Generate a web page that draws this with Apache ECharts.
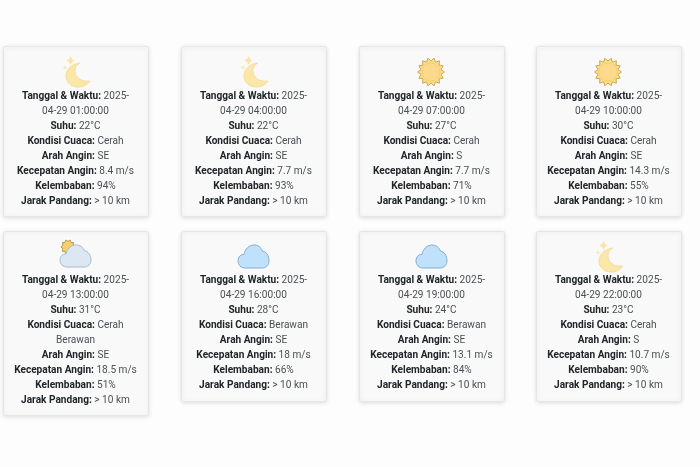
<!DOCTYPE html>
<html>
<head>
<meta charset="utf-8">
<style>
html, body { margin: 0; padding: 0; background: #fdfdfd; }
#main { width: 700px; height: 467px; }
</style>
<script src="https://cdn.jsdelivr.net/npm/echarts@6/dist/echarts.min.js"></script>
</head>
<body>
<div id="main"></div>
<script>
// data
var waktu = ['2025-04-29 01:00:00', '2025-04-29 04:00:00', '2025-04-29 07:00:00', '2025-04-29 10:00:00',
    '2025-04-29 13:00:00', '2025-04-29 16:00:00', '2025-04-29 19:00:00', '2025-04-29 22:00:00'];
var suhu = [22, 22, 27, 30, 31, 28, 24, 23];
var kondisi = ['Cerah', 'Cerah', 'Cerah', 'Cerah', 'Cerah Berawan', 'Berawan', 'Berawan', 'Cerah'];
var arah = ['SE', 'SE', 'S', 'SE', 'SE', 'SE', 'SE', 'S'];
var kecepatan = [8.4, 7.7, 7.7, 14.3, 18.5, 18, 13.1, 10.7];
var kelembaban = [94, 93, 71, 55, 51, 66, 84, 90];
var jarak = ['> 10 km', '> 10 km', '> 10 km', '> 10 km', '> 10 km', '> 10 km', '> 10 km', '> 10 km'];
var ikon = ['moon', 'moon', 'sun', 'sun', 'partly', 'cloud', 'cloud', 'moon'];

var cardX = [3, 181, 359, 536];
var cardW = 145;
var rowY = [46, 231];
var textY = [96, 280];
var lineH = 15;
var FONT = 'Roboto, "Noto Sans", sans-serif';

var CLOUD = 'M7 23 C3 23 0 20 0 16 C0 12 3 10 6 10 C7 5 11 1 16 1 C20 1 23 3 24.5 7 C28 7 31 11 31 16 C31 20 28 23 24 23 Z';
var CRESCENT = 'M14 0 C5 1 0 7 0 13 C0 19 5 24 12 24 C17 24 21 22 24 18 C17 19 10 16 9 9 C8.5 5 10 2 14 0 Z';
var STAR = 'M4 0 L5.4 2.6 L8 4 L5.4 5.4 L4 8 L2.6 5.4 L0 4 L2.6 2.6 Z';

function sunBurst(cx, cy, r, spikes) {
    var d = '', i, a, rr;
    for (i = 0; i < spikes * 2; i++) {
        a = Math.PI * i / spikes;
        rr = i % 2 ? r * 0.76 : r;
        d += (i ? 'L' : 'M') + (cx + rr * Math.cos(a)).toFixed(2) + ' ' + (cy + rr * Math.sin(a)).toFixed(2) + ' ';
    }
    return d + 'Z';
}

function pathAt(d, x, y, w, h, fill, stroke) {
    return {
        type: 'path',
        shape: { pathData: d, layout: 'cover', x: x, y: y, width: w, height: h },
        style: { fill: fill, stroke: stroke || null, lineWidth: 1 }
    };
}

function drawIcon(kind, cx, top) {
    if (kind === 'moon') {
        return [
            pathAt(CRESCENT, cx - 9.5, top + 7, 24, 24, '#fbe7a8', '#f5dd9b'),
            pathAt(STAR, cx - 9, top + 0, 8, 9, '#fbe4a0'),
            pathAt(STAR, cx - 13, top + 9, 5, 5, '#fbe9b8')
        ];
    }
    if (kind === 'sun') {
        return [
            pathAt(sunBurst(14, 14, 14, 14), cx - 14, top + 2, 27, 28, '#fcdc80', '#c9aa60'),
            { type: 'circle', shape: { cx: cx - 0.5, cy: top + 16, r: 9 }, style: { fill: '#fdd98e', stroke: '#f2cb72', lineWidth: 0.8 } }
        ];
    }
    if (kind === 'cloud') {
        return [pathAt(CLOUD, cx - 15.5, top + 4, 31, 23, '#bfe1fb', '#86aecb')];
    }
    // partly: small sun behind a pale cloud
    return [
        pathAt(sunBurst(8, 8, 8, 10), cx - 14.5, top - 1, 14, 14, '#f9cf6c', '#b89a52'),
        pathAt(CLOUD, cx - 15.5, top + 4, 31, 22, '#dbe8f2', '#a9bccb')
    ];
}

function wrapLines(i) {
    var w = waktu[i];
    var lines = [
        ['Tanggal & Waktu: ', w.slice(0, 5)],
        ['', w.slice(5)],
        ['Suhu: ', suhu[i] + '°C']
    ];
    // long weather names break onto their own line in the narrow card
    if (kondisi[i].length > 10) {
        var parts = kondisi[i].split(' ');
        lines.push(['Kondisi Cuaca: ', parts[0]]);
        lines.push(['', parts[1]]);
    } else {
        lines.push(['Kondisi Cuaca: ', kondisi[i]]);
    }
    lines.push(['Arah Angin: ', arah[i]]);
    lines.push(['Kecepatan Angin: ', kecepatan[i] + ' m/s']);
    lines.push(['Kelembaban: ', kelembaban[i] + '%']);
    lines.push(['Jarak Pandang: ', jarak[i]]);
    return lines;
}

function renderCard(params) {
    var i = params.dataIndex;
    var col = i % 4, row = Math.floor(i / 4);
    var x = cardX[col], y = rowY[row];
    var lines = wrapLines(i);
    var cardH = 50 + lines.length * lineH + (lines.length > 8 ? -1 : 0);
    var cx = x + cardW / 2;
    var children = [{
        type: 'rect',
        shape: { x: x + 0.5, y: y + 0.5, width: cardW, height: cardH, r: 2 },
        style: {
            fill: '#f9f9f9', stroke: '#e6e6e6', lineWidth: 1,
            shadowBlur: 4, shadowColor: 'rgba(0,0,0,0.12)', shadowOffsetY: 1
        }
    }];
    children = children.concat(drawIcon(ikon[i], cx, y + 10));
    lines.forEach(function (ln, j) {
        children.push({
            type: 'text',
            x: cx,
            y: textY[row] + j * lineH,
            style: {
                text: (ln[0] ? '{b|' + ln[0] + '}' : '') + '{n|' + ln[1] + '}',
                align: 'center',
                verticalAlign: 'middle',
                rich: {
                    b: { fontFamily: FONT, fontSize: 10.1, fontWeight: 700, fill: '#212529', lineHeight: lineH },
                    n: { fontFamily: FONT, fontSize: 10.1, fontWeight: 400, fill: '#4a4f54', lineHeight: lineH }
                }
            }
        });
    });
    return { type: 'group', children: children };
}

var chart = echarts.init(document.getElementById('main'), null, { renderer: 'canvas' });
chart.setOption({
    animation: false,
    backgroundColor: '#fdfdfd',
    series: [{
        type: 'custom',
        coordinateSystem: 'none',
        silent: true,
        data: waktu,
        renderItem: renderCard
    }]
});
</script>
</body>
</html>
